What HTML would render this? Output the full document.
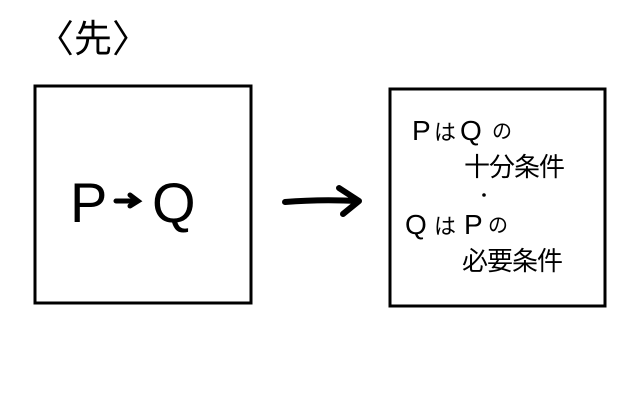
<!DOCTYPE html>
<html><head><meta charset="utf-8"><style>
html,body{margin:0;padding:0;background:#fff;width:640px;height:400px;overflow:hidden}
</style></head><body>
<svg width="640" height="400" viewBox="0 0 640 400" xmlns="http://www.w3.org/2000/svg" font-family="'Liberation Sans','Noto Sans CJK JP',sans-serif">
<rect x="35" y="86" width="216" height="217" fill="none" stroke="#000" stroke-width="3"/>
<rect x="390" y="89" width="215" height="217" fill="none" stroke="#000" stroke-width="3"/>
<text x="36" y="52" font-size="38">〈先〉</text>
<text x="70" y="222" font-size="56">P</text>
<path d="M116 201 L137 201 M130 195 L138 201 L130 206" stroke="#000" stroke-width="5" fill="none" stroke-linecap="round"/>
<text x="152" y="222" font-size="56">Q</text>
<path d="M285 202 Q320 199 359 201 M339 188 L359 201 L343 214" stroke="#000" stroke-width="6" fill="none" stroke-linecap="round" stroke-linejoin="round"/>
<text x="412" y="140" font-size="28">P</text>
<text x="434" y="140" font-size="22">は</text>
<text x="460" y="140" font-size="28">Q</text>
<text x="492" y="138" font-size="20">の</text>
<text x="464" y="176" font-size="26" letter-spacing="-1">十分条件</text>
<circle cx="484" cy="195" r="1.8" fill="#000"/>
<text x="405" y="234" font-size="28">Q</text>
<text x="434" y="234" font-size="22">は</text>
<text x="464" y="234" font-size="28">P</text>
<text x="488" y="232" font-size="20">の</text>
<text x="462" y="270" font-size="26" letter-spacing="-1">必要条件</text>
</svg>
</body></html>
